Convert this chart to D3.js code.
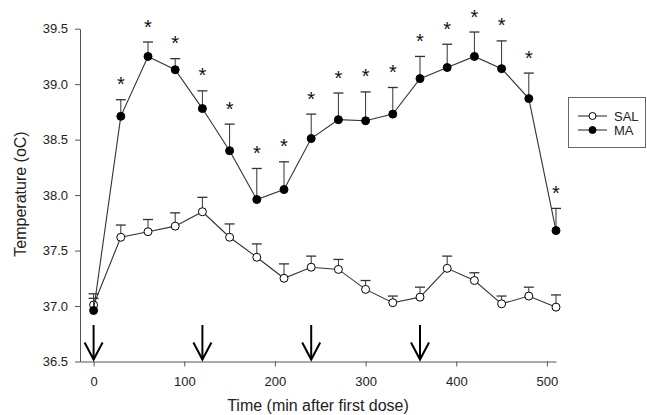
<!DOCTYPE html>
<html><head><meta charset="utf-8">
<script src="https://cdn.jsdelivr.net/npm/d3@7"></script>
<style>body{margin:0;background:#fff}svg{display:block;font-family:"Liberation Sans",Arial,sans-serif}</style>
</head><body><svg id="c" width="647" height="415"></svg>
<script>
const times = [0,30,60,90,120,150,180,210,240,270,300,330,360,390,420,450,480,510];
const salMean = [37.01,37.62,37.67,37.72,37.85,37.62,37.44,37.25,37.35,37.33,37.15,37.03,37.08,37.34,37.23,37.02,37.09,36.99];
const salErrTop = [37.11,37.73,37.78,37.84,37.98,37.74,37.56,37.38,37.45,37.42,37.23,37.09,37.17,37.45,37.30,37.09,37.17,37.10];
const maMean = [36.96,38.71,39.25,39.13,38.78,38.40,37.96,38.05,38.51,38.68,38.67,38.73,39.05,39.15,39.25,39.14,38.87,37.68];
const maErrTop = [37.07,38.86,39.38,39.23,38.94,38.64,38.24,38.30,38.73,38.92,38.93,38.97,39.25,39.36,39.47,39.39,39.10,37.88];
const maSig = [false,true,true,true,true,true,true,true,true,true,true,true,true,true,true,true,true,true];
const doseTimes = [0,120,240,360];
const xTicks = [0,100,200,300,400,500];
const yTicks = [36.5,37.0,37.5,38.0,38.5,39.0,39.5];
const seriesNames = ["SAL","MA"];

const svg = d3.select("#c");
const x = d3.scaleLinear().domain([-15,510]).range([80,556]);
const y = d3.scaleLinear().domain([36.5,39.5]).range([361.5,28.7]);
const ink = "#333";

// axes
const gx = svg.append("g").attr("transform","translate(0,361.5)")
  .call(d3.axisBottom(x).tickValues(xTicks).tickSize(5).tickSizeOuter(0).tickPadding(10));
const gy = svg.append("g").attr("transform","translate(80,0)")
  .call(d3.axisLeft(y).tickValues(yTicks).tickFormat(d3.format(".1f")).tickSize(5).tickSizeOuter(0).tickPadding(7));
[gx,gy].forEach(g=>{
  g.selectAll("path,line").attr("stroke","#555").attr("stroke-width",1);
  g.selectAll("text").attr("font-size",13).attr("fill","#222").attr("font-family","Liberation Sans, Arial, sans-serif");
});

svg.append("text").attr("x",318).attr("y",411).attr("text-anchor","middle")
  .attr("font-size",16).attr("fill","#222").text("Time (min after first dose)");
svg.append("text").attr("transform","translate(26,194) rotate(-90)").attr("text-anchor","middle")
  .attr("font-size",16).attr("fill","#222").text("Temperature (oC)");

// dose arrows
const arr = svg.append("g").attr("stroke","#000").attr("stroke-width",2).attr("fill","none");
doseTimes.forEach(t=>{
  const cx = x(t);
  arr.append("line").attr("x1",cx).attr("x2",cx).attr("y1",325).attr("y2",359.5);
  arr.append("path").attr("d",`M${cx-9},${342.5}L${cx},${359.5}L${cx+9},${342.5}`);
});

function drawSeries(means, tops, filled){
  const g = svg.append("g");
  g.selectAll("line.err").data(times).join("line")
    .attr("x1",(d)=>x(d)).attr("x2",(d)=>x(d))
    .attr("y1",(d,i)=>y(means[i])).attr("y2",(d,i)=>y(tops[i]))
    .attr("stroke",ink).attr("stroke-width",1);
  g.selectAll("line.cap").data(times).join("line")
    .attr("x1",(d)=>x(d)-5).attr("x2",(d)=>x(d)+5)
    .attr("y1",(d,i)=>y(tops[i])).attr("y2",(d,i)=>y(tops[i]))
    .attr("stroke",ink).attr("stroke-width",1.3);
  g.append("path").datum(times)
    .attr("d",d3.line().x(d=>x(d)).y((d,i)=>y(means[i])))
    .attr("fill","none").attr("stroke",ink).attr("stroke-width",1.1);
  g.selectAll("circle").data(times).join("circle")
    .attr("cx",d=>x(d)).attr("cy",(d,i)=>y(means[i])).attr("r",4)
    .attr("fill",filled?"#000":"#fff").attr("stroke","#000").attr("stroke-width",1);
}
drawSeries(salMean, salErrTop, false);
drawSeries(maMean, maErrTop, true);

// significance stars
svg.append("g").selectAll("text").data(times.filter((d,i)=>maSig[i])).join("text")
  .attr("x",d=>x(d)).attr("y",d=>y(maErrTop[times.indexOf(d)])-8.5)
  .attr("text-anchor","middle").attr("font-size",20).attr("fill","#111").text("*");

// legend
const lg = svg.append("g");
lg.append("rect").attr("x",568.5).attr("y",97.5).attr("width",77).attr("height",50)
  .attr("fill","#fff").attr("stroke","#666").attr("stroke-width",1);
seriesNames.forEach((n,i)=>{
  const ly = 116 + i*14;
  lg.append("line").attr("x1",578).attr("x2",607).attr("y1",ly).attr("y2",ly).attr("stroke",ink).attr("stroke-width",1.1);
  lg.append("circle").attr("cx",592.5).attr("cy",ly).attr("r",3.5)
    .attr("fill",i===0?"#fff":"#000").attr("stroke","#000");
  lg.append("text").attr("x",614).attr("y",ly+4.5).attr("font-size",13).attr("fill","#222").text(n);
});
</script></body></html>
